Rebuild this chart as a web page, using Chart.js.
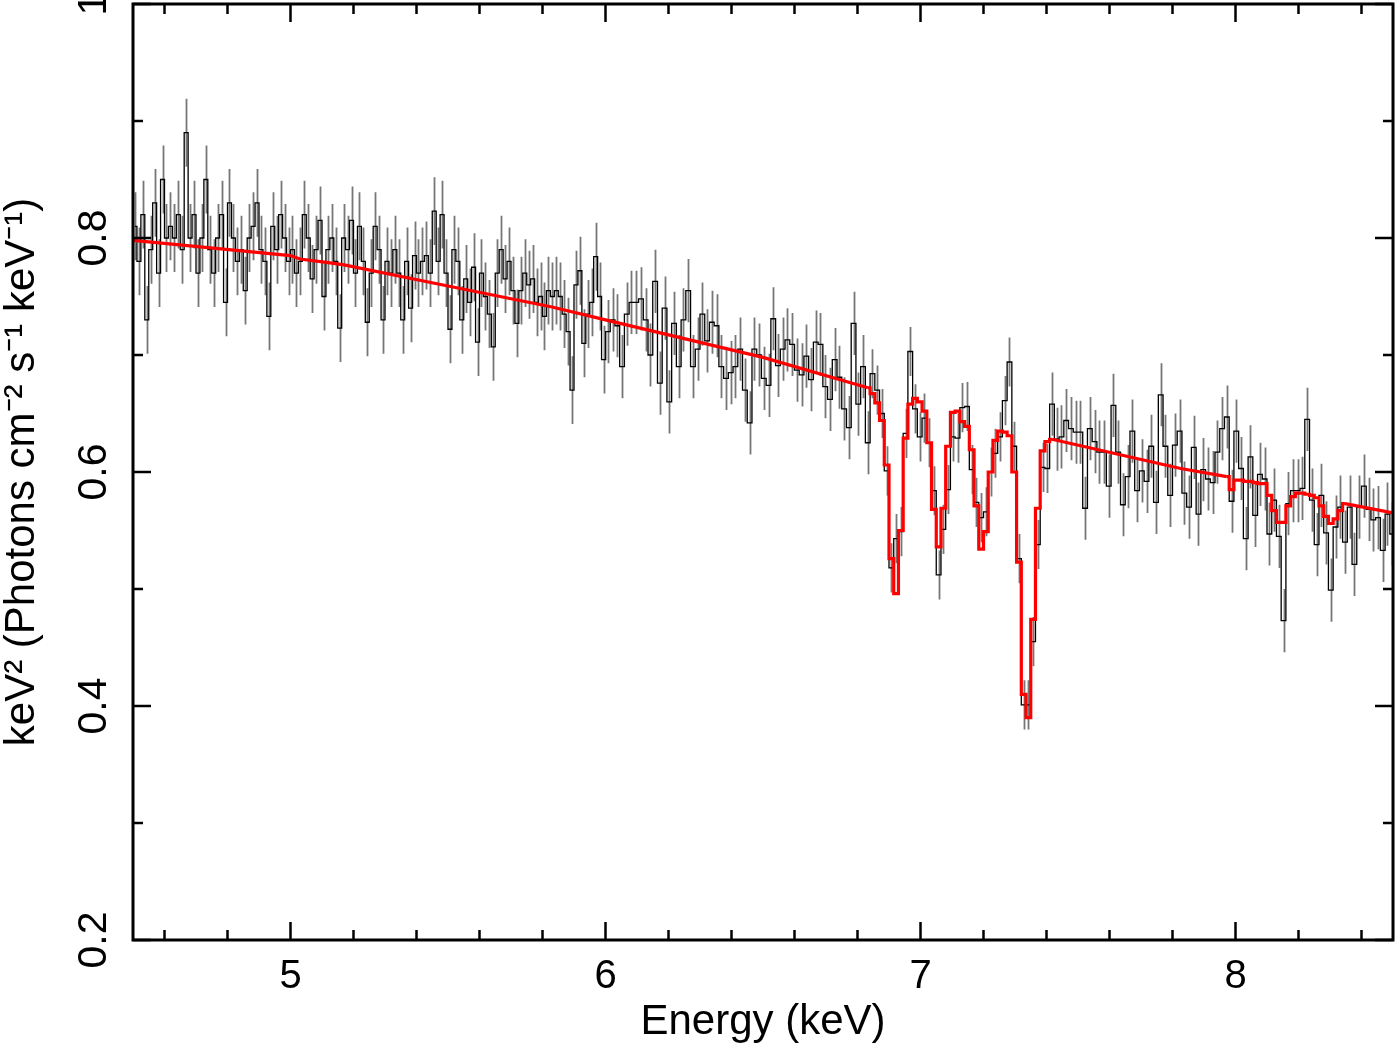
<!DOCTYPE html>
<html>
<head>
<meta charset="utf-8">
<script src="https://cdn.jsdelivr.net/npm/chart.js@4.4.1/dist/chart.umd.min.js"></script>
<style>
  html, body { margin: 0; padding: 0; background: #fff; }
  #wrap { width: 1398px; height: 1046px; }
</style>
</head>
<body>
<div id="wrap"><canvas id="spec"></canvas></div>
<script>
// energy bins (keV): two grids, fixed width in each
const gridA = { start: 4.5, width: 0.0125 };
const gridB = { start: 6.0, width: 0.015 };

// data, keV^2 (Photons cm^-2 s^-1 keV^-1), one value per bin
const fluxA = [
  0.81, 0.78, 0.82, 0.73, 0.79, 0.83, 0.77, 0.85, 0.80, 0.81,
  0.80, 0.82, 0.79, 0.89, 0.80, 0.82, 0.77, 0.80, 0.85, 0.79,
  0.77, 0.80, 0.82, 0.745, 0.83, 0.80, 0.78, 0.79, 0.755, 0.80,
  0.81, 0.83, 0.79, 0.78, 0.733, 0.81, 0.79, 0.82, 0.80, 0.78,
  0.79, 0.77, 0.78, 0.82, 0.80, 0.765, 0.79, 0.815, 0.75, 0.79,
  0.80, 0.78, 0.723, 0.80, 0.79, 0.815, 0.77, 0.81, 0.78, 0.728,
  0.77, 0.81, 0.79, 0.73, 0.78, 0.77, 0.79, 0.77, 0.73, 0.78,
  0.74, 0.785, 0.77, 0.78, 0.785, 0.77, 0.823, 0.78, 0.82, 0.77,
  0.722, 0.79, 0.78, 0.73, 0.765, 0.745, 0.775, 0.711, 0.77, 0.75,
  0.735, 0.707, 0.77, 0.79, 0.765, 0.78, 0.755, 0.727, 0.755, 0.77,
  0.76, 0.765, 0.745, 0.75, 0.733, 0.755, 0.75, 0.755, 0.75, 0.735,
  0.72, 0.67, 0.76, 0.772, 0.71, 0.735, 0.745, 0.784, 0.75, 0.696
];
const fluxB = [
  0.72, 0.73, 0.725, 0.69, 0.735, 0.745, 0.745, 0.748, 0.73, 0.70,
  0.763, 0.676, 0.74, 0.66, 0.727, 0.69, 0.73, 0.755, 0.69, 0.705,
  0.735, 0.712, 0.728, 0.725, 0.69, 0.68, 0.685, 0.69, 0.705, 0.67,
  0.642, 0.705, 0.70, 0.68, 0.674, 0.731, 0.691, 0.705, 0.713, 0.709,
  0.687, 0.683, 0.699, 0.679, 0.711, 0.709, 0.673, 0.662, 0.696, 0.681,
  0.654, 0.638, 0.727, 0.658, 0.69, 0.625, 0.684, 0.67, 0.65, 0.601,
  0.518, 0.543, 0.549, 0.633, 0.703, 0.654, 0.630, 0.646, 0.625, 0.584,
  0.512, 0.551, 0.585, 0.630, 0.629, 0.655, 0.656, 0.602, 0.574, 0.561,
  0.566, 0.600, 0.616, 0.630, 0.661, 0.694, 0.622, 0.526, 0.401, 0.401,
  0.455, 0.538, 0.604, 0.603, 0.658, 0.628, 0.630, 0.644, 0.637, 0.634,
  0.634, 0.569, 0.637, 0.626, 0.617, 0.617, 0.588, 0.657, 0.617, 0.572,
  0.596, 0.635, 0.584, 0.601, 0.592, 0.622, 0.574, 0.666, 0.622, 0.580,
  0.623, 0.635, 0.582, 0.570, 0.621, 0.564, 0.602, 0.594, 0.591, 0.617,
  0.637, 0.647, 0.575, 0.635, 0.603, 0.543, 0.613, 0.563, 0.598, 0.594,
  0.547, 0.576, 0.545, 0.473, 0.573, 0.584, 0.584, 0.586, 0.645, 0.576,
  0.538, 0.580, 0.548, 0.499, 0.553, 0.570, 0.540, 0.570, 0.521, 0.570,
  0.588, 0.568, 0.559, 0.561, 0.533, 0.564, 0.547
];
// 1-sigma error, by energy range
const errZones = [
  { lo: 4.5, hi: 6.0, err: 0.029 },
  { lo: 6.0, hi: 6.84, err: 0.027 },
  { lo: 6.84, hi: 7.41, err: 0.021 },
  { lo: 7.41, hi: 8.51, err: 0.027 }
];

// model: smooth continuum pieces + binned absorption regions (gridB bins)
const modelLowE = [4.5, 5.0, 5.03, 5.12, 5.17, 5.5, 5.83, 6.0, 6.5, 6.8325];
const modelLowV = [0.798, 0.785, 0.782, 0.779, 0.777, 0.759, 0.741, 0.730, 0.698, 0.672];
const modelFeStart = 55;
const modelFe = [
  0.672, 0.667, 0.659, 0.644, 0.606, 0.526, 0.496, 0.550, 0.629, 0.658,
  0.663, 0.660, 0.652, 0.625, 0.568, 0.536, 0.569, 0.622, 0.651, 0.652,
  0.643, 0.639, 0.619, 0.571, 0.534, 0.549, 0.600, 0.627, 0.635, 0.634,
  0.631, 0.600, 0.523, 0.410, 0.390, 0.474, 0.569, 0.618, 0.626, 0.628
];
const modelMidE = [7.4175, 7.826, 7.9725];
const modelMidV = [0.628, 0.603, 0.596];
const modelNiStart = 131;
const modelNi = [
  0.596, 0.585, 0.593, 0.593, 0.592, 0.592, 0.591, 0.590, 0.590, 0.580,
  0.567, 0.557, 0.557, 0.571, 0.579, 0.582, 0.582, 0.581, 0.580, 0.578,
  0.571, 0.562, 0.556, 0.560, 0.567, 0.573
];
const modelHighE = [8.3475, 8.5];
const modelHighV = [0.573, 0.565];

// axis ticks
const xMajor = [5, 6, 7, 8];
const xMinor = [4.6, 4.8, 5.2, 5.4, 5.6, 5.8, 6.2, 6.4, 6.6, 6.8, 7.2, 7.4, 7.6, 7.8, 8.2, 8.4];
const yMajor = [0.2, 0.4, 0.6, 0.8, 1];
const yMinor = [0.3, 0.5, 0.7, 0.9];
const yLabels = ['0.2', '0.4', '0.6', '0.8', '1'];

const FONT = "'Liberation Sans', Arial, Helvetica, sans-serif";

function centerB(j) { return gridB.start + gridB.width * (j + 0.5); }

const spectrum = [];
fluxA.forEach((v, i) => spectrum.push({ x: gridA.start + gridA.width * (i + 0.5), y: v }));
fluxB.forEach((v, j) => spectrum.push({ x: centerB(j), y: v }));
spectrum.forEach(p => {
  const z = errZones.find(z => p.x >= z.lo && p.x < z.hi);
  p.err = z ? z.err : 0.027;
});

const pairs = (es, vs) => es.map((e, k) => ({ x: e, y: vs[k] }));
const modelFePts = modelFe.map((v, k) => ({ x: centerB(modelFeStart + k), y: v }));
const modelNiPts = modelNi.map((v, k) => ({ x: centerB(modelNiStart + k), y: v }));

const errorBars = {
  id: 'errorBars',
  beforeDatasetsDraw(chart) {
    const { ctx, scales: { x, y } } = chart;
    ctx.save();
    ctx.strokeStyle = '#777777';
    ctx.lineWidth = 1.8;
    ctx.beginPath();
    spectrum.forEach(p => {
      const px = Math.round(x.getPixelForValue(p.x)) + 0.5;
      ctx.moveTo(px, y.getPixelForValue(p.y - p.err));
      ctx.lineTo(px, y.getPixelForValue(p.y + p.err));
    });
    ctx.stroke();
    ctx.restore();
  }
};

const frame = {
  id: 'frame',
  afterDraw(chart) {
    const { ctx, chartArea: a, scales: { x, y } } = chart;
    ctx.save();
    ctx.strokeStyle = '#000';
    ctx.lineWidth = 3;
    ctx.strokeRect(a.left, a.top, a.right - a.left, a.bottom - a.top);
    ctx.lineWidth = 2.5;
    ctx.beginPath();
    const xt = (vals, len) => vals.forEach(v => {
      const px = x.getPixelForValue(v);
      ctx.moveTo(px, a.bottom); ctx.lineTo(px, a.bottom - len);
      ctx.moveTo(px, a.top); ctx.lineTo(px, a.top + len);
    });
    const yt = (vals, len) => vals.forEach(v => {
      const py = y.getPixelForValue(v);
      ctx.moveTo(a.left, py); ctx.lineTo(a.left + len, py);
      ctx.moveTo(a.right, py); ctx.lineTo(a.right - len, py);
    });
    xt(xMajor, 18); xt(xMinor, 10);
    yt(yMajor, 18); yt(yMinor, 10);
    ctx.stroke();
    // rotated y tick labels
    ctx.fillStyle = '#000';
    ctx.font = '41px ' + FONT;
    ctx.textAlign = 'center';
    ctx.textBaseline = 'middle';
    yMajor.forEach((v, k) => {
      ctx.save();
      ctx.translate(95, y.getPixelForValue(v));
      ctx.rotate(-Math.PI / 2);
      ctx.fillText(yLabels[k], 0, 0);
      ctx.restore();
    });
    ctx.restore();
  }
};

new Chart(document.getElementById('spec'), {
  type: 'line',
  data: {
    datasets: [
      { data: pairs(modelLowE, modelLowV), borderColor: '#ff0000', borderWidth: 3.2, order: 0 },
      { data: modelFePts, stepped: 'middle', borderColor: '#ff0000', borderWidth: 3.2, order: 0 },
      { data: pairs(modelMidE, modelMidV), borderColor: '#ff0000', borderWidth: 3.2, order: 0 },
      { data: modelNiPts, stepped: 'middle', borderColor: '#ff0000', borderWidth: 3.2, order: 0 },
      { data: pairs(modelHighE, modelHighV), borderColor: '#ff0000', borderWidth: 3.2, order: 0 },
      { data: spectrum, stepped: 'middle', borderColor: '#000000', borderWidth: 1.3, order: 1 }
    ]
  },
  options: {
    responsive: true,
    maintainAspectRatio: false,
    animation: false,
    elements: { point: { radius: 0, hoverRadius: 0 }, line: { tension: 0, fill: false } },
    layout: { padding: { top: 4, right: 5, left: 0, bottom: 0 } },
    plugins: { legend: { display: false }, tooltip: { enabled: false } },
    events: [],
    scales: {
      x: {
        type: 'linear',
        min: 4.5,
        max: 8.5,
        grid: { display: false, drawTicks: false },
        border: { display: false },
        afterBuildTicks: s => { s.ticks = xMajor.map(v => ({ value: v })); },
        afterFit: s => { s.height = 106; },
        ticks: {
          color: '#000',
          font: { family: FONT, size: 40 },
          padding: 13,
          maxRotation: 0,
          autoSkip: false,
          callback: v => String(v)
        },
        title: {
          display: true,
          text: 'Energy (keV)',
          color: '#000',
          font: { family: FONT, size: 42, lineHeight: 1.1 },
          padding: { top: 0, bottom: 0 }
        }
      },
      y: {
        type: 'linear',
        min: 0.2,
        max: 1,
        grid: { display: false, drawTicks: false },
        border: { display: false },
        afterFit: s => { s.width = 133; },
        ticks: { display: false },
        title: {
          display: true,
          text: 'keV² (Photons cm⁻² s⁻¹ keV⁻¹)',
          color: '#000',
          font: { family: FONT, size: 42, lineHeight: 1.05 },
          padding: { top: 0, bottom: 0 }
        }
      }
    }
  },
  plugins: [errorBars, frame]
});
</script>
</body>
</html>
